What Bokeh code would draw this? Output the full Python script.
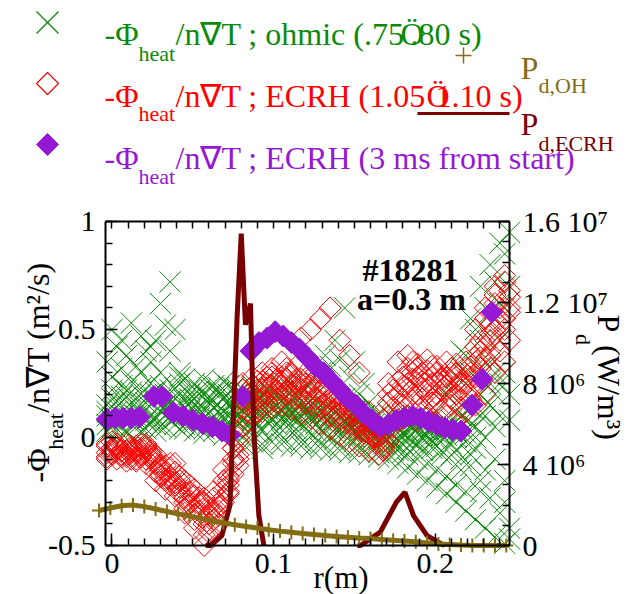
import math
from bokeh.plotting import figure
from bokeh.models import Range1d, LinearAxis, FixedTicker, Label
from bokeh.embed import file_html
from bokeh.resources import INLINE

# ---------------- data ----------------
x_a = [-0.003, 0.003, 0.009, 0.015, 0.021, 0.027, 0.033, 0.039, 0.045, 0.051, 0.057, 0.063, 0.069, 0.075,
       0.081, 0.087, 0.093, 0.099, 0.105, 0.111, 0.117, 0.123, 0.129, 0.135, 0.141, 0.147, 0.153, 0.159,
       0.165, 0.171, 0.177, 0.183, 0.189, 0.195, 0.201, 0.207, 0.213, 0.219, 0.225, 0.231, 0.237, 0.243]
x_b = [0.000, 0.006, 0.012, 0.018, 0.024, 0.030, 0.036, 0.042, 0.048, 0.054, 0.060, 0.066, 0.072, 0.078,
       0.084, 0.090, 0.096, 0.102, 0.108, 0.114, 0.120, 0.126, 0.132, 0.138, 0.144, 0.150, 0.156, 0.162,
       0.168, 0.174, 0.180, 0.186, 0.192, 0.198, 0.204, 0.210, 0.216, 0.222, 0.228, 0.234, 0.240, 0.246]

# ohmic (.75-.80 s) time slices
ohm_1 = [0.03, 0.04, 0.03, 0.05, 0.04, 0.06, 0.05, 0.06, 0.04, 0.03, 0.04, 0.03, 0.05, 0.04,
         0.00, -0.02, -0.03, -0.02, -0.03, -0.04, -0.04, -0.05, -0.05, -0.06, -0.06, -0.07, -0.07, -0.08,
         -0.09, -0.10, -0.12, -0.14, -0.17, -0.20, -0.23, -0.26, -0.30, -0.34, -0.38, -0.42, -0.46, -0.49]
ohm_2 = [0.08, 0.10, 0.09, 0.11, 0.10, 0.12, 0.10, 0.11, 0.08, 0.09, 0.07, 0.08, 0.06, 0.07,
         0.05, 0.06, 0.07, 0.06, 0.05, 0.04, 0.04, 0.03, 0.02, 0.02, 0.01, 0.00, -0.01, -0.02,
         -0.03, -0.04, -0.03, -0.02, -0.04, -0.05, -0.06, -0.08, -0.10, -0.13, -0.20, -0.28, -0.35, -0.42]
ohm_3 = [0.15, 0.17, 0.14, 0.16, 0.18, 0.17, 0.15, 0.18, 0.14, 0.15, 0.13, 0.14, 0.12, 0.13,
         0.12, 0.13, 0.15, 0.14, 0.12, 0.11, 0.10, 0.09, 0.08, 0.07, 0.06, 0.05, 0.04, 0.03,
         0.02, 0.03, 0.04, 0.03, 0.02, 0.03, 0.02, 0.01, 0.00, -0.02, 0.05, 0.00, -0.10, -0.20]
ohm_4 = [0.22, 0.24, 0.21, 0.23, 0.25, 0.24, 0.22, 0.25, 0.20, 0.22, 0.19, 0.21, 0.20, 0.22,
         0.18, 0.20, 0.22, 0.20, 0.19, 0.18, 0.17, 0.15, 0.13, 0.12, 0.10, 0.09, 0.07, 0.06,
         0.05, 0.07, 0.08, 0.06, 0.07, 0.05, 0.06, 0.08, 0.10, 0.14, 0.20, 0.15, 0.10, 0.08]
ohm_5 = [0.35, 0.42, 0.38, 0.33, 0.40, 0.45, 0.52, 0.50, 0.27, 0.25, 0.27, 0.24, 0.26, 0.23,
         0.22, 0.24, 0.25, 0.23, 0.24, 0.22, 0.21, 0.26, 0.30, 0.33, 0.36, 0.28, 0.20, 0.16,
         0.10, 0.11, 0.10, 0.09, 0.10, 0.08, 0.12, 0.20, 0.28, 0.38, 0.50, 0.60, 0.72, 0.85]
ohm_6 = [0.50, 0.45, 0.53, 0.47, 0.42, 0.62, 0.72, 0.30, 0.18, 0.20, 0.23, 0.21, 0.24, 0.20,
         0.10, 0.12, 0.09, 0.11, 0.08, 0.09, 0.13, 0.20, 0.38, 0.45, 0.60, 0.35, 0.25, 0.13,
         0.00, -0.02, 0.00, 0.05, 0.06, 0.05, 0.04, 0.25, 0.40, 0.55, 0.70, 0.80, 0.90, 0.95]
ohm_7 = [0.10, 0.12, 0.19, 0.07, 0.13, 0.09, 0.20, 0.14, 0.10, 0.18, 0.09, 0.17, 0.09, 0.16,
         0.08, 0.16, 0.03, 0.17, 0.09, 0.14, 0.06, 0.12, 0.04, 0.10, 0.03, 0.08, 0.01, 0.05,
         -0.01, 0.00, 0.06, 0.00, 0.04, 0.01, 0.00, 0.04, 0.03, 0.02, -0.05, 0.10, 0.30, -0.30]
ohm_8 = [0.05, 0.19, 0.06, 0.20, 0.07, 0.15, 0.08, 0.20, 0.12, 0.05, 0.16, 0.05, 0.15, 0.10,
         0.15, 0.02, 0.18, 0.03, 0.15, 0.07, 0.13, 0.06, 0.11, 0.04, 0.08, 0.03, 0.06, 0.00,
         0.04, -0.06, 0.02, -0.05, 0.00, -0.02, 0.03, -0.03, 0.05, 0.06, 0.10, 0.35, 0.45, -0.47]
ohm_9 = [0.06, 0.14, 0.02, 0.12, 0.08, 0.03, 0.13, 0.09, 0.06, 0.12, 0.02, 0.10, 0.01, 0.09,
         -0.03, 0.09, -0.05, 0.08, -0.01, 0.10, -0.02, 0.08, -0.03, 0.06, -0.04, 0.04, -0.05, 0.02,
         -0.07, 0.01, -0.06, -0.08, -0.10, -0.12, -0.15, -0.18, -0.22, -0.25, 0.00, -0.15, 0.20, 0.60]
ohm_10 = [0.28, 0.32, 0.26, 0.30, 0.35, 0.30, 0.40, 0.28, 0.16, 0.10, 0.18, 0.12, 0.17, 0.11,
          0.20, 0.17, 0.13, 0.19, 0.14, 0.20, 0.15, 0.17, 0.15, 0.14, 0.18, 0.12, 0.10, 0.09,
          0.08, 0.04, 0.02, 0.04, 0.03, 0.02, 0.01, 0.03, 0.15, 0.30, 0.45, 0.58, 0.25, 0.70]
ohm_11 = [0.12, 0.07, 0.22, 0.10, 0.16, 0.21, 0.10, 0.23, 0.17, 0.07, 0.20, 0.06, 0.18, 0.08,
          0.17, 0.08, 0.19, 0.09, 0.17, 0.12, 0.15, 0.10, 0.12, 0.09, 0.10, 0.06, 0.08, 0.04,
          0.06, 0.05, -0.01, 0.07, -0.03, 0.07, -0.04, 0.06, -0.06, 0.09, 0.30, 0.40, 0.05, 0.30]
ohm_12 = [0.18, 0.05, 0.16, 0.03, 0.20, 0.05, 0.17, 0.04, 0.22, 0.13, 0.11, 0.23, 0.10, 0.18,
          0.03, 0.18, 0.11, 0.15, 0.11, 0.02, 0.12, 0.00, 0.10, -0.01, 0.07, -0.02, 0.04, -0.04,
          0.07, 0.09, -0.07, 0.08, -0.06, 0.04, -0.08, 0.05, -0.15, -0.08, -0.25, 0.25, 0.62, 0.20]

# ECRH (1.05-1.10 s) time slices
ecr_1 = [-0.09, -0.10, -0.09, -0.10, -0.12, -0.20, -0.24, -0.27, -0.33, -0.38, -0.45, -0.42, -0.30, -0.17,
         0.05, 0.10, 0.12, 0.14, 0.15, 0.13, 0.11, 0.09, 0.06, 0.04, 0.01, -0.02, -0.04, -0.06,
         -0.08, -0.02, 0.08, 0.10, 0.08, 0.09, 0.07, 0.10, 0.08, 0.12, 0.15, 0.20, 0.30, 0.35]
ecr_2 = [-0.05, -0.06, -0.05, -0.07, -0.06, -0.14, -0.18, -0.20, -0.25, -0.30, -0.35, -0.30, -0.22, -0.10,
         0.12, 0.18, 0.20, 0.22, 0.20, 0.18, 0.16, 0.14, 0.12, 0.09, 0.07, 0.04, 0.02, 0.00,
         -0.04, 0.05, 0.15, 0.17, 0.14, 0.16, 0.13, 0.15, 0.14, 0.18, 0.25, 0.32, 0.40, 0.45]
ecr_3 = [-0.03, -0.04, -0.03, -0.04, -0.05, -0.10, -0.13, -0.16, -0.20, -0.24, -0.28, -0.25, -0.15, -0.05,
         0.18, 0.24, 0.26, 0.28, 0.26, 0.24, 0.22, 0.20, 0.17, 0.14, 0.11, 0.08, 0.05, 0.02,
         0.00, 0.10, 0.20, 0.23, 0.20, 0.22, 0.20, 0.22, 0.20, 0.25, 0.35, 0.42, 0.50, 0.55]
ecr_4 = [-0.07, -0.08, -0.07, -0.08, -0.09, -0.17, -0.20, -0.23, -0.29, -0.34, -0.40, -0.36, -0.26, -0.13,
         0.08, 0.14, 0.16, 0.20, 0.30, 0.33, 0.30, 0.27, 0.24, 0.20, 0.16, 0.12, 0.08, 0.05,
         0.02, 0.18, 0.28, 0.30, 0.26, 0.28, 0.27, 0.30, 0.26, 0.30, 0.45, 0.52, 0.60, 0.65]
ecr_5 = [-0.04, -0.05, -0.08, -0.06, -0.04, -0.12, -0.16, -0.22, -0.30, -0.42, -0.50, -0.38, -0.20, -0.05,
         0.25, 0.28, 0.30, 0.32, 0.35, 0.30, 0.46, 0.50, 0.55, 0.60, 0.45, 0.38, 0.30, 0.12,
         0.05, 0.25, 0.35, 0.38, 0.34, 0.36, 0.33, 0.35, 0.30, 0.35, 0.50, 0.60, 0.70, 0.75]
ecr_6 = [-0.08, -0.06, -0.10, -0.05, -0.08, -0.15, -0.22, -0.18, -0.26, -0.31, -0.36, -0.32, -0.18, 0.00,
         0.15, 0.22, 0.25, 0.27, 0.22, 0.27, 0.25, 0.22, 0.19, 0.16, 0.13, 0.10, 0.06, 0.03,
         -0.05, 0.14, 0.24, 0.27, 0.23, 0.25, 0.24, 0.26, 0.22, 0.28, 0.40, 0.48, 0.55, 0.60]
ecr_7 = [-0.06, -0.09, -0.04, -0.09, -0.07, -0.18, -0.14, -0.25, -0.22, -0.36, -0.32, -0.40, -0.25, -0.08,
         0.20, 0.12, 0.28, 0.18, 0.27, 0.23, 0.20, 0.18, 0.15, 0.12, 0.09, 0.06, 0.03, 0.01,
         -0.02, 0.08, 0.18, 0.20, 0.30, 0.18, 0.28, 0.18, 0.25, 0.22, 0.32, 0.38, 0.45, 0.68]
ecr_8 = [-0.10, -0.03, -0.06, -0.11, -0.03, -0.08, -0.19, -0.12, -0.35, -0.27, -0.40, -0.28, -0.24, -0.10,
         0.10, 0.20, 0.18, 0.24, 0.28, 0.20, 0.18, 0.25, 0.14, 0.10, 0.20, 0.14, 0.10, 0.04,
         -0.02, 0.20, 0.12, 0.32, 0.28, 0.31, 0.17, 0.28, 0.34, 0.20, 0.28, 0.36, 0.62, 0.50]
ecr_9 = [-0.07, -0.05, -0.11, -0.07, -0.10, -0.16, -0.20, -0.21, -0.28, -0.33, -0.30, -0.35, -0.28, -0.12,
         0.22, 0.16, 0.22, 0.30, 0.24, 0.29, 0.27, 0.24, 0.21, 0.18, 0.15, 0.11, 0.07, 0.04,
         0.01, 0.16, 0.26, 0.25, 0.32, 0.20, 0.30, 0.24, 0.28, 0.32, 0.42, 0.55, 0.66, 0.72]
ecr_10 = [-0.02, -0.08, -0.06, -0.03, -0.10, -0.13, -0.12, -0.26, -0.31, -0.28, -0.44, -0.34, -0.20, -0.02,
          0.17, 0.26, 0.23, 0.16, 0.32, 0.25, 0.23, 0.30, 0.22, 0.19, 0.17, 0.13, 0.09, 0.06,
          -0.06, 0.22, 0.10, 0.35, 0.18, 0.33, 0.22, 0.32, 0.18, 0.33, 0.37, 0.45, 0.52, 0.58]

# ECRH, 3 ms from start
start_r = [-0.003, 0.002, 0.007, 0.012, 0.017, 0.026, 0.031, 0.038, 0.044, 0.050, 0.056, 0.062, 0.068, 0.073,
           0.081, 0.086, 0.091, 0.096, 0.101, 0.106, 0.111, 0.116, 0.121, 0.126, 0.131, 0.136, 0.141, 0.146,
           0.151, 0.156, 0.161, 0.166, 0.171, 0.176, 0.181, 0.186, 0.191, 0.196, 0.201, 0.206, 0.211, 0.216,
           0.223, 0.229, 0.235]
start_v = [0.085, 0.09, 0.09, 0.09, 0.095, 0.19, 0.19, 0.115, 0.10, 0.08, 0.065, 0.05, 0.03, 0.01,
           0.19, 0.40, 0.44, 0.46, 0.49, 0.47, 0.44, 0.41, 0.37, 0.33, 0.30, 0.26, 0.22, 0.18,
           0.15, 0.11, 0.08, 0.05, 0.06, 0.08, 0.09, 0.10, 0.09, 0.075, 0.06, 0.045, 0.035, 0.03,
           0.15, 0.27, 0.58]

# P_d,ECRH (W/m^3), two deposition regions
pd_ecrh_r1 = [0.058, 0.061, 0.068, 0.073, 0.0775, 0.080, 0.0826, 0.0857, 0.0878, 0.0909, 0.094]
pd_ecrh_v1 = [0.0, 0.0, 0.49e6, 1.98e6, 1.14e7, 1.54e7, 1.09e7, 1.195e7, 5.6e6, 1.48e6, 0.0]
pd_ecrh_r2 = [0.152, 0.1538, 0.166, 0.176, 0.1813, 0.1866, 0.195, 0.2033, 0.206]
pd_ecrh_v2 = [0.0, 0.0, 0.66e6, 2.14e6, 2.63e6, 1.48e6, 0.49e6, 0.1e6, 0.0]

# P_d,OH (W/m^3)
pd_oh_r = [-0.008, -0.001, 0.006, 0.013, 0.020, 0.027, 0.034, 0.041, 0.048, 0.055, 0.062, 0.069,
           0.076, 0.083, 0.090, 0.097, 0.104, 0.111, 0.118, 0.125, 0.132, 0.139, 0.146, 0.153,
           0.160, 0.167, 0.174, 0.181, 0.188, 0.195, 0.202, 0.209, 0.216, 0.223, 0.230, 0.237, 0.244]
pd_oh_v = [1.73e6, 1.85e6, 1.96e6, 2.00e6, 1.92e6, 1.80e6, 1.68e6, 1.56e6, 1.45e6, 1.34e6, 1.22e6, 1.12e6,
           1.02e6, 0.94e6, 0.86e6, 0.78e6, 0.71e6, 0.65e6, 0.59e6, 0.54e6, 0.49e6, 0.45e6, 0.41e6, 0.37e6,
           0.34e6, 0.30e6, 0.26e6, 0.22e6, 0.18e6, 0.13e6, 0.08e6, 0.05e6, 0.02e6, 0.0, 0.0, 0.0, 0.0]

x_ticks = [0, 0.1, 0.2]
x_tick_labels = {0: "0", 0.1: "0.1", 0.2: "0.2"}
y_ticks = [-0.5, 0, 0.5, 1]
y_tick_labels = {-0.5: "-0.5", 0: "0", 0.5: "0.5", 1: "1"}
pd_ticks = [0, 4e6, 8e6, 1.2e7, 1.6e7]
pd_tick_labels = {0: "0", 4e6: "4 10\u2076", 8e6: "8 10\u2076", 1.2e7: "1.2 10\u2077", 1.6e7: "1.6 10\u2077"}

# ---------------- style / geometry ----------------
GREEN = "#0a8a0a"
RED = "#ff0000"
PURPLE = "#9418d4"
DKRED = "#780000"
OLIVE = "#836d14"
SERIF = "Liberation Serif"

W, H = 636, 594
FL, FR, FT, FB = 105, 509, 221, 545          # page pixels of the drawn plot box
X0, X1, Y0, Y1 = -0.004, 0.246, -0.5, 1.0    # data limits of the box
P0, P1 = 0.0, 1.6e7                           # right-axis limits


def fx(sx):
    return X0 + (sx - FL) * (X1 - X0) / (FR - FL)


def fy(sy):
    return Y1 - (sy - FT) * (Y1 - Y0) / (FB - FT)


def fp(sy):
    return P1 - (sy - FT) * (P1 - P0) / (FB - FT)


p = figure(width=W, height=H, x_range=Range1d(fx(0), fx(W)), y_range=Range1d(fy(H), fy(0)),
           output_backend="svg", toolbar_location=None, min_border=0,
           x_axis_type=None, y_axis_type=None)
p.extra_y_ranges = {"pd": Range1d(fp(H), fp(0))}
p.outline_line_color = None
p.background_fill_color = "white"
p.border_fill_color = "white"

minor_x = [round(0.01 * i, 3) for i in range(25)]
ax_bottom = LinearAxis(fixed_location=Y0, bounds=(X0, X1),
                       ticker=FixedTicker(ticks=x_ticks, minor_ticks=minor_x))
ax_bottom.major_label_overrides = x_tick_labels
ax_top = LinearAxis(fixed_location=Y1, bounds=(X0, X1),
                    ticker=FixedTicker(ticks=[], minor_ticks=minor_x))
ax_left = LinearAxis(fixed_location=X0, bounds=(Y0, Y1),
                     ticker=FixedTicker(ticks=y_ticks, minor_ticks=[round(-0.5 + 0.1 * i, 2) for i in range(16)]))
ax_left.major_label_overrides = y_tick_labels
ax_right = LinearAxis(fixed_location=X1, bounds=(P0, P1), y_range_name="pd",
                      ticker=FixedTicker(ticks=pd_ticks, minor_ticks=[1e6 * i for i in range(17)]))
ax_right.major_label_overrides = pd_tick_labels

for ax in (ax_bottom, ax_top, ax_left, ax_right):
    ax.major_tick_in = 12
    ax.major_tick_out = 0
    ax.minor_tick_in = 7
    ax.minor_tick_out = 0
    ax.axis_line_width = 2
    ax.axis_line_color = "black"
    ax.major_tick_line_width = 1.5
    ax.minor_tick_line_width = 1.5
    ax.major_tick_line_color = "black"
    ax.minor_tick_line_color = "black"
    ax.major_label_text_font = SERIF
    ax.major_label_text_font_size = "30px"
    ax.major_label_text_color = "black"
ax_bottom.major_label_standoff = 8
ax_left.major_label_standoff = 10
ax_right.major_label_standoff = 13

p.add_layout(ax_bottom, "below")
p.add_layout(ax_top, "above")
p.add_layout(ax_left, "left")
p.add_layout(ax_right, "right")

# ---------------- legend keys first (page pixels converted to data units) ----------------
p.line([fx(417), fx(509)], [fy(113), fy(113)], line_color=DKRED, line_width=3)
p.segment(x0=[fx(455), fx(463)], y0=[fy(55), fy(47)], x1=[fx(471), fx(463)], y1=[fy(55), fy(63)],
          line_color=OLIVE, line_width=1.5)
p.patch([fx(36), fx(47), fx(58), fx(47)], [fy(144), fy(133), fy(144), fy(155)],
        fill_color=PURPLE, line_color=PURPLE, line_width=1)
p.patch([fx(36), fx(47), fx(58), fx(47)], [fy(83), fy(72), fy(83), fy(94)],
        fill_color=None, line_color=RED, line_width=1.2, line_alpha=1.0)
p.segment(x0=[fx(36), fx(36)], y0=[fy(11), fy(33)], x1=[fx(58), fx(58)], y1=[fy(33), fy(11)],
          line_color=GREEN, line_width=1.2, line_alpha=1.0)

# ---------------- data marks ----------------
for xs, ys in [(x_a, ohm_1), (x_b, ohm_2), (x_a, ohm_3), (x_b, ohm_4), (x_a, ohm_5), (x_b, ohm_6),
               (x_a, ohm_7), (x_b, ohm_8), (x_a, ohm_9), (x_b, ohm_10), (x_a, ohm_11), (x_b, ohm_12)]:
    p.scatter(xs, ys, marker="x", size=30, line_color=GREEN, line_width=1)

for xs, ys in [(x_a, ecr_1), (x_b, ecr_2), (x_a, ecr_3), (x_b, ecr_4), (x_a, ecr_5),
               (x_b, ecr_6), (x_b, ecr_7), (x_a, ecr_8), (x_a, ecr_9), (x_b, ecr_10)]:
    p.scatter(xs, ys, marker="square", angle=math.pi / 4, size=15.5, fill_color=None,
              line_color=RED, line_width=1)

p.scatter(start_r, start_v, marker="square", angle=math.pi / 4, size=15.5,
          fill_color=PURPLE, line_color=PURPLE)

p.line(pd_ecrh_r1, pd_ecrh_v1, y_range_name="pd", line_color=DKRED, line_width=5)
p.line(pd_ecrh_r2, pd_ecrh_v2, y_range_name="pd", line_color=DKRED, line_width=5)
p.line(pd_oh_r, pd_oh_v, y_range_name="pd", line_color=OLIVE, line_width=5)
p.scatter(pd_oh_r, pd_oh_v, y_range_name="pd", marker="cross", size=14, line_color=OLIVE, line_width=2)


# ---------------- texts ----------------
def add_text(sx, sy, text, size, color="black", angle=0.0, bold=False, align="left", baseline="alphabetic"):
    p.add_layout(Label(x=fx(sx), y=fy(sy), text=text, text_font=SERIF, text_font_size=f"{size}px",
                       text_color=color, angle=angle, text_align=align, text_baseline=baseline,
                       text_font_style="bold" if bold else "normal"))


rows = [
    (33, 53, GREEN, "/n\u2207T ; ohmic (.75", 400, ".80 s)", 410),
    (95, 113, RED, "/n\u2207T ; ECRH (1.05", 426, "1.10 s)", 435),
    (157, 176, PURPLE, "/n\u2207T ; ECRH (3 ms from start)", None, None, None),
]
for base, sub, col, body, xo, tail, xt in rows:
    add_text(104, base, "-\u03a6", 32, col)
    add_text(138, sub, "heat", 22, col)
    add_text(175, base, body, 32, col)
    if xo is not None:
        add_text(xo, base, "\u00d6", 32, col)
        add_text(xt, base, tail, 32, col)

add_text(520, 67, "P", 32, OLIVE)
add_text(538, 85, "d,OH", 22, OLIVE)
add_text(520, 123, "P", 32, DKRED)
add_text(538, 143, "d,ECRH", 22, DKRED)

# axis titles (rotated pieces placed by their centres)
add_text(37, 465, "-\u03a6", 32, angle=math.pi / 2, align="center", baseline="middle")
add_text(55, 431, "heat", 22, angle=math.pi / 2, align="center", baseline="middle")
add_text(37, 337, "/n\u2207T (m\u00b2/s)", 32, angle=math.pi / 2, align="center", baseline="middle")

add_text(608, 323, "P", 32, angle=-math.pi / 2, align="center", baseline="middle")
add_text(583, 339, "d", 22, angle=-math.pi / 2, align="center", baseline="middle")
add_text(608, 392, "(W/m\u00b3)", 32, angle=-math.pi / 2, align="center", baseline="middle")

add_text(313, 577, "r(m)", 31)

# annotations
add_text(410, 269, "#18281", 32, bold=True, align="center")
add_text(411, 298, "a=0.3 m", 32, bold=True, align="center")

open("out.html", "w").write(file_html(p, INLINE))
